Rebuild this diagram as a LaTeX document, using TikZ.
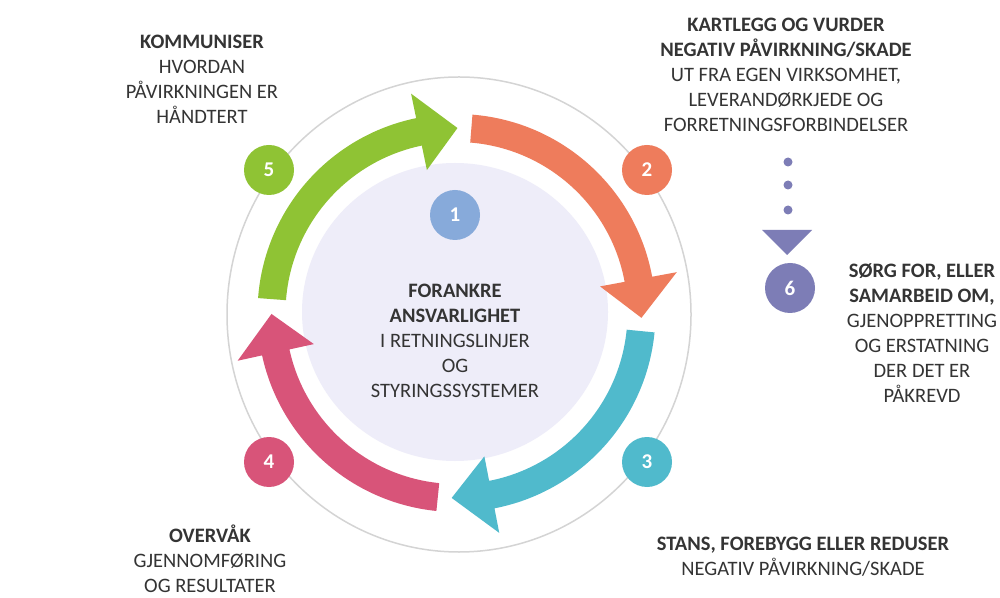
\documentclass[tikz,border=0pt]{standalone}
\usepackage{fontspec}
\setmainfont{Carlito}
\definecolor{cgreen}{RGB}{143,195,52}
\definecolor{corange}{RGB}{238,124,92}
\definecolor{ccyan}{RGB}{80,186,204}
\definecolor{cpink}{RGB}{216,84,121}
\definecolor{cblue}{RGB}{135,170,218}
\definecolor{clav}{RGB}{238,237,249}
\definecolor{cpurple}{RGB}{125,125,182}
\definecolor{cring}{RGB}{212,212,212}
\definecolor{ctext}{RGB}{52,52,52}
\newcommand{\ringarrow}[4]{%
  \fill[#1] (#2:171pt) arc[start angle=#2, end angle=#3, radius=171pt]
    -- (#3:146pt) -- (#4:185pt) -- (#3:224pt) -- (#3:199pt)
    arc[start angle=#3, end angle=#2, radius=199pt] -- cycle;}
\begin{document}
\begin{tikzpicture}[x=1pt,y=1pt,
  txt/.style={align=center, text=ctext, font=\fontsize{20.5}{25}\selectfont, inner sep=0pt},
  numdot/.style={circle, minimum size=50pt, inner sep=0pt, text=white, font=\fontsize{21}{24}\selectfont\bfseries}]
\useasboundingbox[fill=white] (0,0) rectangle (1000,597);
% outer ring
\draw[cring, line width=1.5pt] (459,282.5) ellipse[x radius=232, y radius=237.5];
% inner disk
\fill[clav] (455,285) ellipse[x radius=153, y radius=149];
% arrows
\begin{scope}[shift={(456.5,284)}]
  \ringarrow{cgreen}{175.7}{101.7}{89.7}
  \ringarrow{corange}{85.4}{10.5}{-1.5}
  \ringarrow{ccyan}{-5.6}{-79}{-91.5}
  \ringarrow{cpink}{264.2}{192.3}{180.3}
\end{scope}
% numbered circles
\node[numdot, fill=cblue] (n1) at (455,382) {1};
\node[numdot, fill=corange] (n2) at (647,427) {2};
\node[numdot, fill=ccyan] (n3) at (647,135) {3};
\node[numdot, fill=cpink] (n4) at (269,135) {4};
\node[numdot, fill=cgreen] (n5) at (269,427) {5};
\node[numdot, fill=cpurple] (n6) at (790,309) {6};
% dots and triangle
\fill[cpurple] (788,435) circle[radius=4.5];
\fill[cpurple] (788,412) circle[radius=4.5];
\fill[cpurple] (788,387) circle[radius=4.5];
\fill[cpurple] (762,367) -- (812,367) -- (787,342) -- cycle;
% texts
\node[txt] (t1) at (455,256) {\textbf{FORANKRE}\\\textbf{ANSVARLIGHET}\\I RETNINGSLINJER\\OG\\STYRINGSSYSTEMER};
\node[txt] (t2) at (786,522) {\textbf{KARTLEGG OG VURDER}\\\textbf{NEGATIV PÅVIRKNING/SKADE}\\UT FRA EGEN VIRKSOMHET,\\LEVERANDØRKJEDE OG\\FORRETNINGSFORBINDELSER};
\node[txt] (t3) at (803,40) {\textbf{STANS, FOREBYGG ELLER REDUSER}\\NEGATIV PÅVIRKNING/SKADE};
\node[txt] (t4) at (210,38) {\textbf{OVERVÅK}\\GJENNOMFØRING\\OG RESULTATER};
\node[txt] (t5) at (202,517.5) {\textbf{KOMMUNISER}\\HVORDAN\\PÅVIRKNINGEN ER\\HÅNDTERT};
\node[txt] (t6) at (922,264) {\textbf{SØRG FOR, ELLER}\\\textbf{SAMARBEID OM,}\\GJENOPPRETTING\\OG ERSTATNING\\DER DET ER\\PÅKREVD};
\end{tikzpicture}
\end{document}
